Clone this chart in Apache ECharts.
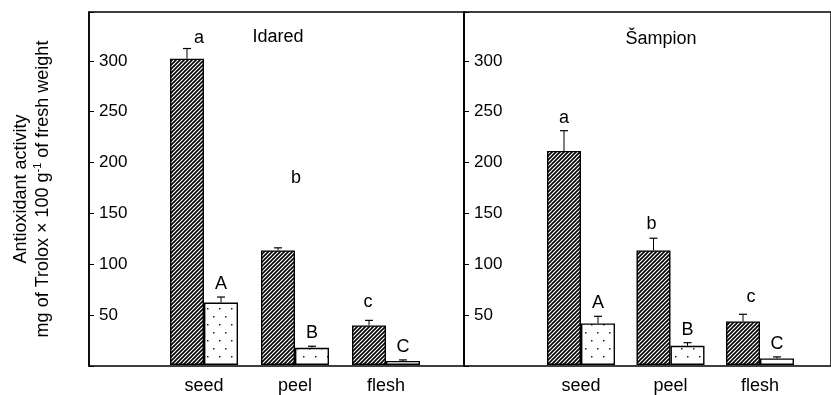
<!DOCTYPE html>
<html>
<head>
<meta charset="utf-8">
<script src="https://cdn.jsdelivr.net/npm/echarts@6/dist/echarts.min.js"></script>
<style>
html,body{margin:0;padding:0;background:#fff;}
#chart{width:831px;height:395px;}
</style>
</head>
<body>
<div id="chart"></div>
<script>
// ---- data ----
const categories = ['seed', 'peel', 'flesh'];
const panelNames = ['Idared', 'Šampion'];

const idaredHatched = [302, 113, 39];
const idaredHatchedErr = [10, 2.5, 5];
const idaredDotted = [61.5, 17, 4];
const idaredDottedErr = [5.5, 1.5, 1];

const sampionHatched = [211, 113, 43];
const sampionHatchedErr = [20, 12, 7];
const sampionDotted = [41, 19, 6.5];
const sampionDottedErr = [7, 3, 1.5];

const hatchedLetters = ['a', 'b', 'c'];
const dottedLetters = ['A', 'B', 'C'];

const yTickInterval = 50;
const yMin = 0;
const yMax = 348;
const yLabelMax = 300;

// ---- styling ----
const FONT = "'Liberation Sans', Arial, sans-serif";
const BAR_W = 34;
const LETTER_GAP = 4;
// small nudges [dx, dy] in px for letters that sit off their usual place
const letterNudge = {
  '0-h-0': [12, 3],
  '0-h-1': [18, -57],
  '0-h-2': [-1, -5],
  '1-h-1': [-2, -1],
  '1-h-2': [8, -4]
};

function hatchPattern() {
  const c = document.createElement('canvas');
  c.width = 4; c.height = 4;
  const g = c.getContext('2d');
  g.fillStyle = '#fff'; g.fillRect(0, 0, 4, 4);
  g.strokeStyle = '#000'; g.lineWidth = 1.6;
  g.beginPath();
  g.moveTo(-1, 5); g.lineTo(5, -1);
  g.moveTo(-1, 1); g.lineTo(1, -1);
  g.moveTo(3, 5); g.lineTo(5, 3);
  g.stroke();
  return c;
}
function dotPattern() {
  const c = document.createElement('canvas');
  c.width = 12; c.height = 16;
  const g = c.getContext('2d');
  g.fillStyle = '#fff'; g.fillRect(0, 0, 12, 16);
  g.fillStyle = '#222';
  g.fillRect(3, 4, 1.5, 1.5);
  g.fillRect(9, 12, 1.5, 1.5);
  return c;
}
const hatchFill = { image: hatchPattern(), repeat: 'repeat' };
const dotFill = { image: dotPattern(), repeat: 'repeat' };

const panels = [
  { hatched: idaredHatched, hatchedErr: idaredHatchedErr, dotted: idaredDotted, dottedErr: idaredDottedErr },
  { hatched: sampionHatched, hatchedErr: sampionHatchedErr, dotted: sampionDotted, dottedErr: sampionDottedErr }
];

const chart = echarts.init(document.getElementById('chart'), null, { renderer: 'canvas' });

const frameGrid = { top: 12, bottom: 29, show: true, borderColor: '#000', borderWidth: 1.5, backgroundColor: 'transparent', containLabel: false };

const grids = [
  Object.assign({ left: 89, width: 375 }, frameGrid),
  Object.assign({ left: 464, right: -5 }, frameGrid),
  { left: 158.5, width: 273, top: 12, bottom: 29, show: false },
  { left: 536.25, width: 268.5, top: 12, bottom: 29, show: false }
];

const xAxes = [
  { type: 'value', gridIndex: 0, show: false, min: 0, max: 1 },
  { type: 'value', gridIndex: 1, show: false, min: 0, max: 1 },
  { type: 'category', gridIndex: 2, data: categories, axisLine: { show: false }, axisTick: { show: false },
    axisLabel: { color: '#000', fontSize: 18, fontFamily: FONT, margin: 12 } },
  { type: 'category', gridIndex: 3, data: categories, axisLine: { show: false }, axisTick: { show: false },
    axisLabel: { color: '#000', fontSize: 18, fontFamily: FONT, margin: 12 } }
];

function visibleY(gridIndex, withName) {
  const ax = {
    type: 'value', gridIndex: gridIndex, min: yMin, max: yMax, interval: yTickInterval,
    splitLine: { show: false },
    axisLine: { show: true, lineStyle: { color: '#000', width: 1.5 } },
    axisTick: { show: true, inside: true, length: 5, lineStyle: { color: '#000', width: 1 } },
    axisLabel: {
      inside: true, margin: 10, color: '#000', fontSize: 17, fontFamily: FONT,
      formatter: function (v) { return (v > 0 && v <= yLabelMax) ? String(v) : ''; }
    }
  };
  if (withName) {
    ax.name = '{t|Antioxidant activity}\n{t|mg of Trolox × 100 g}{sup|-1}{t| of fresh weight}';
    ax.nameLocation = 'middle';
    ax.nameRotate = 90;
    ax.nameGap = 35;
    ax.nameTextStyle = {
      color: '#000', fontFamily: FONT, fontSize: 18, lineHeight: 22,
      rich: {
        t: { fontSize: 18, fontFamily: FONT, color: '#000', lineHeight: 22 },
        sup: { fontSize: 11, fontFamily: FONT, color: '#000', lineHeight: 22, verticalAlign: 'top', padding: [0, 0, 8, 0] }
      }
    };
  }
  return ax;
}

const yAxes = [
  visibleY(0, true),
  visibleY(1, false),
  { type: 'value', gridIndex: 2, min: yMin, max: yMax, show: false },
  { type: 'value', gridIndex: 3, min: yMin, max: yMax, show: false }
];

const series = [];
panels.forEach(function (p, pi) {
  const ax = pi + 2;
  series.push({
    type: 'bar', xAxisIndex: ax, yAxisIndex: ax, barWidth: BAR_W, barGap: '0%',
    data: p.hatched, silent: true,
    itemStyle: { color: hatchFill, borderColor: '#000', borderWidth: 1.4 }
  });
  series.push({
    type: 'bar', xAxisIndex: ax, yAxisIndex: ax, barWidth: BAR_W, barGap: '0%',
    data: p.dotted, silent: true,
    itemStyle: { color: dotFill, borderColor: '#000', borderWidth: 1.4 }
  });
  const errData = [];
  const letters = [];
  const keys = [];
  p.hatched.forEach(function (v, i) { errData.push([i, v, p.hatchedErr[i], -1]); letters.push(hatchedLetters[i]); keys.push(pi + '-h-' + i); });
  p.dotted.forEach(function (v, i) { errData.push([i, v, p.dottedErr[i], 1]); letters.push(dottedLetters[i]); keys.push(pi + '-d-' + i); });
  series.push({
    type: 'custom', xAxisIndex: ax, yAxisIndex: ax, silent: true, z: 5,
    data: errData,
    encode: { x: 0, y: 1 },
    renderItem: function (params, api) {
      const ci = api.value(0), v = api.value(1), e = api.value(2), side = api.value(3);
      const base = api.coord([ci, v]);
      const top = api.coord([ci, v + e]);
      const x = base[0] + side * BAR_W / 2;
      const nudge = letterNudge[keys[params.dataIndex]] || [0, 0];
      return {
        type: 'group',
        children: [
          { type: 'line', shape: { x1: x, y1: base[1], x2: x, y2: top[1] }, style: { stroke: '#000', lineWidth: 1 } },
          { type: 'line', shape: { x1: x - 4, y1: top[1], x2: x + 4, y2: top[1] }, style: { stroke: '#000', lineWidth: 1.2 } },
          { type: 'text', x: x + nudge[0], y: top[1] - LETTER_GAP + nudge[1],
            style: { text: letters[params.dataIndex], fill: '#000', font: '18px ' + FONT, align: 'center', verticalAlign: 'bottom' } }
        ]
      };
    }
  });
});

const option = {
  animation: false,
  backgroundColor: '#fff',
  grid: grids,
  xAxis: xAxes,
  yAxis: yAxes,
  series: series,
  graphic: [
    { type: 'text', x: 278, y: 37, style: { text: panelNames[0], fill: '#000', font: '18px ' + FONT, align: 'center', verticalAlign: 'middle' } },
    { type: 'text', x: 661, y: 39, style: { text: panelNames[1], fill: '#000', font: '18px ' + FONT, align: 'center', verticalAlign: 'middle' } }
  ]
};
chart.setOption(option);
</script>
</body>
</html>
